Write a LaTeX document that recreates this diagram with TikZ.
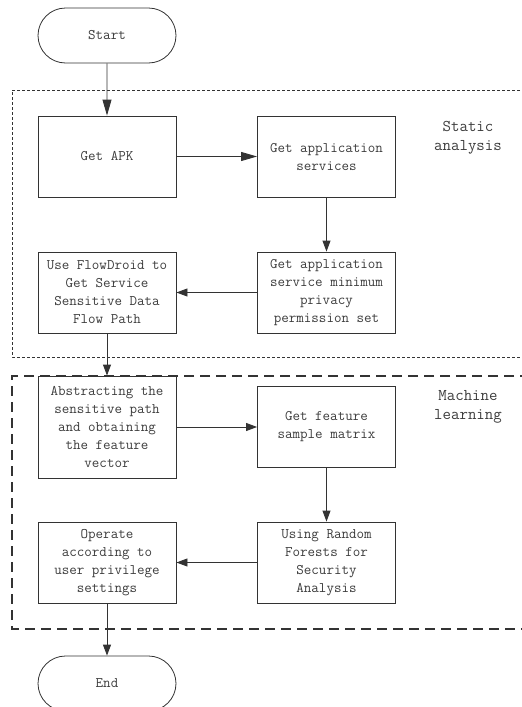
\documentclass[tikz,border=0pt]{standalone}
\usetikzlibrary{arrows.meta,shapes.misc}

\definecolor{inkline}{HTML}{333333}
\definecolor{inktext}{HTML}{3C3C3C}

\tikzset{
  every node/.style={font=\ttfamily\fontsize{14.6}{18}\selectfont, text=inktext},
  procbox/.style={draw=inkline, line width=0.9pt, rectangle, inner sep=0pt,
    minimum width=138pt, minimum height=81pt, align=center},
  terminal/.style={draw=inkline, line width=0.8pt, rounded rectangle,
    minimum width=138pt, minimum height=55pt, inner sep=0pt},
  flow/.style={draw=inkline, line width=0.9pt, -{Triangle[length=11pt,width=8pt]}},
  bigflow/.style={draw=inkline, line width=0.9pt, -{Triangle[length=16pt,width=9pt]}},
  grouplabel/.style={align=center, font=\ttfamily\fontsize{16.4}{19.5}\selectfont},
  staticframe/.style={draw=inkline, line width=0.7pt, dash pattern=on 3pt off 2pt},
  mlframe/.style={draw=inkline, line width=1.3pt, dash pattern=on 10pt off 6pt},
}

\begin{document}
\begin{tikzpicture}[x=1pt, y=-1pt]
  \useasboundingbox (0,0) rectangle (522,707);

  % group frames (open to the right)
  \draw[staticframe] (530,90) -- (12,90) -- (12,357) -- (530,357);
  \draw[mlframe] (530,376) -- (12,376) -- (12,629) -- (530,629);

  \node[grouplabel] (lblstatic) at (468,138) {Static\\analysis};
  \node[grouplabel] (lblml) at (468,407) {Machine\\learning};

  % terminals
  \node[terminal] (start) at (107,35.5) {Start};
  \node[terminal] (finish) at (107,683.5) {End};

  % static analysis steps
  \node[procbox] (apk) at (107,156.5) {Get APK};
  \node[procbox] (services) at (326.5,156.5) {Get application\\services};
  \node[procbox] (minperm) at (326.5,292.5) {Get application\\service minimum\\privacy\\permission set};
  \node[procbox] (flowdroid) at (107,292.5) {Use FlowDroid to\\Get Service\\Sensitive Data\\Flow Path};

  % machine learning steps
  \node[procbox, minimum height=102pt] (abstract) at (107,427) {Abstracting the\\sensitive path\\and obtaining\\the feature\\vector};
  \node[procbox] (matrix) at (326.5,426.5) {Get feature\\sample matrix};
  \node[procbox] (forest) at (326.5,562.5) {Using Random\\Forests for\\Security\\Analysis};
  \node[procbox] (operate) at (107,562.5) {Operate\\according to\\user privilege\\settings};

  % connectors
  \draw[bigflow] (start) -- (apk);
  \draw[bigflow] (apk) -- (services);
  \draw[flow] (services) -- (minperm);
  \draw[flow] (minperm) -- (flowdroid);
  \draw[flow] (flowdroid) -- (abstract);
  \draw[flow] (abstract.east) -- (matrix.west |- abstract.east);
  \draw[flow] (matrix) -- (forest);
  \draw[flow] (forest) -- (operate);
  \draw[flow] (operate) -- (finish);
\end{tikzpicture}
\end{document}
